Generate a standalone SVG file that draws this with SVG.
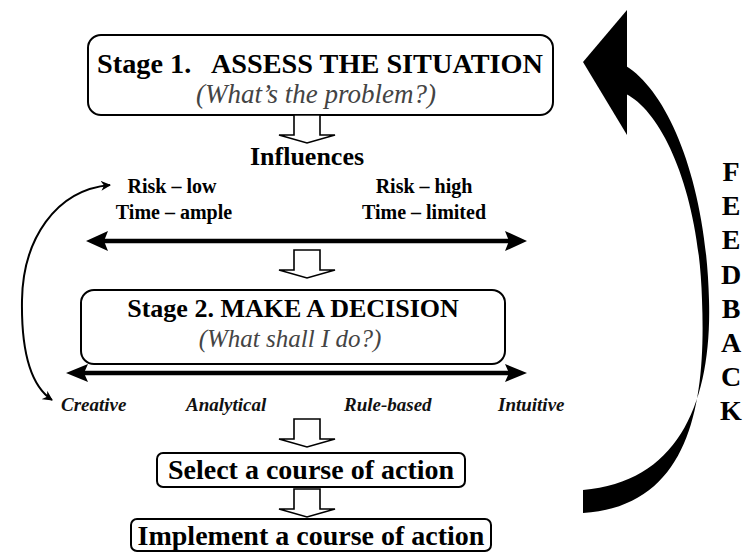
<svg xmlns="http://www.w3.org/2000/svg" width="746" height="553" viewBox="0 0 746 553" font-family="Liberation Serif, Times New Roman, DejaVu Serif, serif">
<style>
.box{fill:#fff;stroke:#000;stroke-width:2}
.b{font-weight:bold;fill:#000}
.i{font-style:italic;fill:#444}
.bi{font-style:italic;font-weight:bold;fill:#111}
.hollow{fill:#fff;stroke:#000;stroke-width:1.6;stroke-linejoin:miter}
.line{stroke:#000;stroke-width:4.5;fill:none}
.thin{stroke:#000;stroke-width:2;fill:none}
.head{fill:#000}
</style>
<defs>
<marker id="ah" viewBox="0 0 10 10" refX="9" refY="5" markerWidth="5" markerHeight="5" orient="auto-start-reverse">
<path d="M0,0 L10,5 L0,10 L3,5 Z" fill="#000"/>
</marker>
<path id="hol" d="M-13,0 L13,0 L13,20 L28,20 L0,28 L-28,20 L-13,20 Z"/>
</defs>
<rect width="746" height="553" fill="#fff"/>

<g id="stage1">
<rect class="box" x="88" y="35" width="465" height="80" rx="13"/>
<text class="b" x="97" y="73" font-size="27" font-family="Liberation Serif, serif" textLength="446" lengthAdjust="spacingAndGlyphs" xml:space="preserve">Stage 1.   ASSESS THE SITUATION</text>
<text class="i" x="316" y="103" font-size="27" font-family="Liberation Serif, serif" text-anchor="middle">(What’s the problem?)</text>
</g>

<g id="influences">
<text class="b" x="307" y="165" font-size="26" font-family="Liberation Serif, serif" text-anchor="middle">Influences</text>
<text class="b" x="172" y="193" font-size="20" font-family="Liberation Serif, serif" text-anchor="middle">Risk – low</text>
<text class="b" x="174" y="219" font-size="20" font-family="Liberation Serif, serif" text-anchor="middle">Time – ample</text>
<text class="b" x="424" y="193" font-size="20" font-family="Liberation Serif, serif" text-anchor="middle">Risk – high</text>
<text class="b" x="424" y="219" font-size="20" font-family="Liberation Serif, serif" text-anchor="middle">Time – limited</text>
</g>

<g id="stage2">
<rect class="box" x="81" y="290" width="424" height="74" rx="13"/>
<text class="b" x="293" y="317" font-size="26" font-family="Liberation Serif, serif" text-anchor="middle">Stage 2. MAKE A DECISION</text>
<text class="i" x="290" y="347" font-size="25" font-family="Liberation Serif, serif" text-anchor="middle">(What shall I do?)</text>
</g>

<g id="styles">
<text class="bi" x="61" y="411" font-size="19" font-family="Liberation Serif, serif">Creative</text>
<text class="bi" x="186" y="411" font-size="19" font-family="Liberation Serif, serif">Analytical</text>
<text class="bi" x="344" y="411" font-size="19" font-family="Liberation Serif, serif">Rule-based</text>
<text class="bi" x="498" y="411" font-size="19" font-family="Liberation Serif, serif">Intuitive</text>
</g>

<g id="select">
<rect class="box" x="157" y="453" width="308" height="34" rx="6"/>
<text class="b" x="311" y="479" font-size="28" font-family="Liberation Serif, serif" text-anchor="middle">Select a course of action</text>
</g>

<g id="implement">
<rect class="box" x="131" y="519" width="360" height="32" rx="6"/>
<text class="b" x="311" y="545" font-size="28" font-family="Liberation Serif, serif" text-anchor="middle">Implement a course of action</text>
</g>

<g id="feedback-label">
<text class="b" font-size="28" font-family="Liberation Serif, serif" text-anchor="middle"><tspan x="731" y="181">F</tspan><tspan x="731" y="215">E</tspan><tspan x="731" y="249">E</tspan><tspan x="731" y="284">D</tspan><tspan x="731" y="318">B</tspan><tspan x="731" y="352">A</tspan><tspan x="731" y="386">C</tspan><tspan x="731" y="420">K</tspan></text>
</g>

<g id="connectors">
<use href="#hol" class="hollow" x="307" y="115"/>
<use href="#hol" class="hollow" x="307" y="250"/>
<use href="#hol" class="hollow" x="307" y="419"/>
<use href="#hol" class="hollow" x="307" y="489"/>

<line class="line" x1="100" y1="241" x2="512" y2="241"/>
<path class="head" d="M86,241 L108,231 L104,241 L108,251 Z"/>
<path class="head" d="M527,241 L505,231 L509,241 L505,251 Z"/>

<line class="line" x1="80" y1="373" x2="512" y2="373"/>
<path class="head" d="M66,373 L88,364 L84,373 L88,382 Z"/>
<path class="head" d="M527,373 L505,364 L509,373 L505,382 Z"/>

<path class="thin" d="M110,185 C55,190 23,240 22,300 C21,360 34,388 52,400" marker-start="url(#ah)" marker-end="url(#ah)"/>

<path class="head" d="M627,10 L583,62 L627,135 Z"/>
<path class="head" d="M626,66 C668,92 706,180 709,300 C712,400 680,482 583,490 L583,513 C692,506 706,400 702,300 C699,190 662,112 626,94 Z"/>
</g>
</svg>
